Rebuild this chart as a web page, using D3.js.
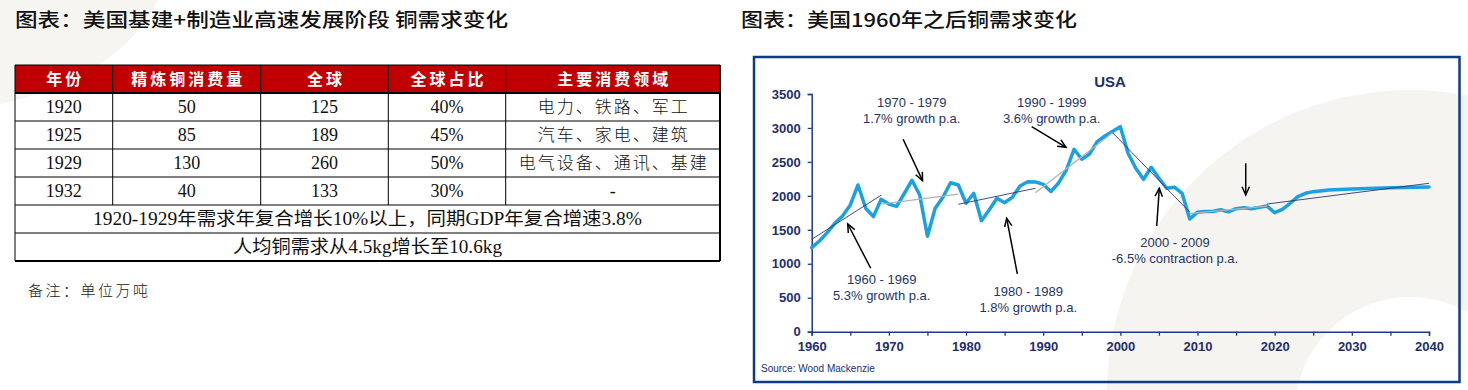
<!DOCTYPE html>
<html><head><meta charset="utf-8">
<script src="https://cdn.jsdelivr.net/npm/d3@7/dist/d3.min.js"></script>
<style>
html,body{margin:0;padding:0;background:#fff;}
svg{display:block;}
</style></head>
<body>
<svg id="chart" width="1468" height="390"></svg>
<script>
// ---------- data ----------
const leftTitle = "图表：美国基建+制造业高速发展阶段 铜需求变化";
const rightTitle = "图表：美国1960年之后铜需求变化";
const tableHeaders = ["年份","精炼铜消费量","全球","全球占比","主要消费领域"];
const tableYears = ["1920","1925","1929","1932"];
const refinedUse = [50,85,130,40];
const globalUse = [125,189,260,133];
const globalShare = ["40%","45%","50%","30%"];
const mainSectors = ["电力、铁路、军工","汽车、家电、建筑","电气设备、通讯、基建","-"];
const tableNotes = ["1920-1929年需求年复合增长10%以上，同期GDP年复合增速3.8%","人均铜需求从4.5kg增长至10.6kg"];
const footNote = "备注：单位万吨";

const chartTitle = "USA";
const sourceText = "Source: Wood Mackenzie";
const years = [1960,1961,1962,1963,1964,1965,1966,1967,1968,1969,
  1970,1971,1972,1973,1974,1975,1976,1977,1978,1979,
  1980,1981,1982,1983,1984,1985,1986,1987,1988,1989,
  1990,1991,1992,1993,1994,1995,1996,1997,1998,1999,
  2000,2001,2002,2003,2004,2005,2006,2007,2008,2009,
  2010,2011,2012,2013,2014,2015,2016,2017,2018,2019,
  2020,2021,2022,2023,2024,2025,2027,2030,2035,2040];
const demand = [1237,1336,1458,1596,1704,1866,2160,1817,1694,1950,
  1880,1845,2035,2230,2013,1405,1817,1979,2194,2160,
  1891,2038,1635,1792,1964,1900,1979,2145,2209,2205,
  2170,2065,2190,2381,2686,2539,2617,2798,2882,2950,
  3019,2627,2406,2244,2421,2259,2112,2127,2038,1660,
  1760,1770,1770,1795,1765,1811,1826,1811,1831,1851,
  1752,1802,1891,1988,2038,2062,2087,2101,2121,2131];
const yTicks = [0,500,1000,1500,2000,2500,3000,3500];
const xTicks = [1960,1965,1970,1975,1980,1985,1990,1995,2000,2005,2010,2015,2020,2025,2030,2035,2040];
const xLabels = [1960,1970,1980,1990,2000,2010,2020,2030,2040];
// trend segments
const trendStartYear = [1960,1969,1979,1989,1999,2009,2019];
const trendStartVal  = [1360,1880,1876,2047,2930,1740,1880];
const trendEndYear   = [1969,1979,1989,1999,2009,2019,2040];
const trendEndVal    = [2010,2025,2112,2930,1760,1850,2185];
const trendKind      = ["dark","light","dark","light","dark","light","dark"];
// annotations (in data units)
const annoLines = [["1970 - 1979","1.7% growth p.a."],["1990 - 1999","3.6% growth p.a."],
  ["1960 - 1969","5.3% growth p.a."],["1980 - 1989","1.8% growth p.a."],
  ["2000 - 2009","-6.5% contraction p.a."],[]];
const annoYear = [1972.96,1991.1,1969.07,1988.07,2007.08,null];
const annoVal  = [3368,3378,772,589,1316,null];
const arrowFromYear = [1971.85,1988.51,1967.65,1986.65,2004.71,2016.25];
const arrowFromVal  = [2833,3019,934,850,1556,2480];
const arrowToYear   = [1974.36,1992.96,1964.67,1985.27,2005.05,2016.25];
const arrowToVal    = [2224,2715,1586,1670,2112,2013];

// ---------- drawing ----------
const svg = d3.select("#chart");
const cjkSerif = "'Liberation Serif','Noto Sans CJK SC',serif";
const cjk = "'Noto Sans CJK SC','Liberation Serif',sans-serif";
const sans = "'Liberation Sans',Arial,sans-serif";

// background watermark shapes
svg.append("path").attr("d","M0,0 L158,0 Q118,78 0,104 Z").attr("fill","#f7f5f2");
const defs = svg.append("defs");
defs.append("clipPath").attr("id","pageClip").append("rect")
  .attr("x",0).attr("y",0).attr("width",1468).attr("height",390);
svg.append("path").attr("clip-path","url(#pageClip)")
  .attr("d", (() => { const p = d3.path(); p.arc(1410,393,303,0,2*Math.PI); p.moveTo(1525,412); p.arc(1410,412,115,0,2*Math.PI,true); return p.toString(); })())
  .attr("fill","#f6f4f1").attr("fill-rule","evenodd");

// titles
svg.append("text").attr("x",15).attr("y",27).text(leftTitle)
  .attr("font-family",cjk).attr("font-size",19).attr("font-weight",500).attr("fill","#111")
  .attr("textLength",493).attr("lengthAdjust","spacingAndGlyphs");
svg.append("text").attr("x",741).attr("y",27).text(rightTitle)
  .attr("font-family",cjk).attr("font-size",19).attr("font-weight",500).attr("fill","#111")
  .attr("textLength",336).attr("lengthAdjust","spacingAndGlyphs");

// ---------- table ----------
const colEdges = [15,112.7,260.7,388.3,505.7,720];
const rowTop = 65, headH = 28, rowH = 28;
const colCenters = colEdges.slice(0,-1).map((v,i)=>(v+colEdges[i+1])/2);
const tbl = svg.append("g");
tbl.append("rect").attr("x",colEdges[0]).attr("y",rowTop).attr("width",colEdges[5]-colEdges[0]).attr("height",headH).attr("fill","#c00000");
const bodyRows = tableYears.map((yv,i)=>[yv, String(refinedUse[i]), String(globalUse[i]), globalShare[i], mainSectors[i]]);
const nBody = bodyRows.length;
const bodyBottom = rowTop + headH + nBody*rowH;
const tableBottom = bodyBottom + tableNotes.length*rowH;
for (let i=0;i<=nBody;i++){
  const yy = rowTop+headH+i*rowH;
  tbl.append("line").attr("x1",colEdges[0]).attr("x2",colEdges[5]).attr("y1",yy).attr("y2",yy)
    .attr("stroke","#000").attr("stroke-width", i===0?2:1);
}
tbl.append("line").attr("x1",colEdges[0]).attr("x2",colEdges[5]).attr("y1",bodyBottom+rowH).attr("y2",bodyBottom+rowH).attr("stroke","#000").attr("stroke-width",1);
tbl.append("line").attr("x1",colEdges[0]).attr("x2",colEdges[5]).attr("y1",tableBottom).attr("y2",tableBottom).attr("stroke","#000").attr("stroke-width",2);
tbl.append("line").attr("x1",colEdges[0]).attr("x2",colEdges[5]).attr("y1",rowTop).attr("y2",rowTop).attr("stroke","#000").attr("stroke-width",1);
colEdges.forEach((cx,i)=>{
  const outer = (i===0||i===5);
  tbl.append("line").attr("x1",cx).attr("x2",cx).attr("y1",rowTop).attr("y2", outer?tableBottom:bodyBottom)
    .attr("stroke","#000").attr("stroke-width", i===5?2:1);
});
tbl.selectAll("text.h").data(tableHeaders).join("text").attr("class","h")
  .attr("x",(d,i)=>colCenters[i]+1.5).attr("y",rowTop+headH/2+6)
  .attr("text-anchor","middle").attr("font-family",cjk).attr("font-weight","bold")
  .attr("font-size",16).attr("letter-spacing",3).attr("fill","#fff").text(d=>d);
bodyRows.forEach((row,r)=>{
  row.forEach((cell,c)=>{
    const isCJK = /[\u4e00-\u9fff]/.test(cell);
    tbl.append("text").attr("x",colCenters[c]+(isCJK?1:0)).attr("y",rowTop+headH+r*rowH+rowH/2+6)
      .attr("text-anchor","middle").attr("font-family",cjkSerif).attr("font-size",isCJK?17:18)
      .attr("font-weight",isCJK?300:400)
      .attr("letter-spacing",isCJK?2:0).attr("fill","#111").text(cell);
  });
});
tableNotes.forEach((t,i)=>{
  tbl.append("text").attr("x",(colEdges[0]+colEdges[5])/2).attr("y",bodyBottom+i*rowH+rowH/2+6)
    .attr("text-anchor","middle").attr("font-family",cjkSerif).attr("font-size",18).attr("fill","#111")
    .attr("textLength", i===0?549:269).attr("lengthAdjust","spacingAndGlyphs").text(t);
});
svg.append("text").attr("x",28).attr("y",296).attr("font-family",cjk).attr("font-size",15)
  .attr("font-weight",300).attr("letter-spacing",2.5).attr("fill","#222").text(footNote);

// ---------- line chart ----------
const navy = "#1d2f6e";
const frameC = "#0f3b86";
svg.append("rect").attr("x",754).attr("y",57).attr("width",705.5).attr("height",325)
  .attr("fill","none").attr("stroke",frameC).attr("stroke-width",2.5);

const x = d3.scaleLinear().domain([1960,2040]).range([811.7,1429]);
const y = d3.scaleLinear().domain([0,3500]).range([331.7,94]);

const gy = svg.append("g").attr("transform","translate(811.7,0)")
  .call(d3.axisLeft(y).tickValues(yTicks).tickSize(4).tickPadding(7).tickFormat(d3.format("d")));
const gx = svg.append("g").attr("transform","translate(0,331.7)")
  .call(d3.axisBottom(x).tickValues(xTicks).tickSize(4).tickPadding(6)
    .tickFormat(d => xLabels.includes(d) ? String(d) : ""));
[gx,gy].forEach(g=>{
  g.select(".domain").attr("stroke","#1b3a8a").attr("stroke-width",1.5);
  g.selectAll(".tick line").attr("stroke","#1b3a8a").attr("stroke-width",1.3);
  g.selectAll(".tick text").attr("fill",navy).attr("font-family",sans).attr("font-size",13).attr("font-weight","bold");
});

svg.append("text").attr("x",1110).attr("y",87).attr("text-anchor","middle").attr("font-family",sans)
  .attr("font-size",15).attr("font-weight","bold").attr("fill",navy).text(chartTitle);
svg.append("text").attr("x",761).attr("y",372).attr("font-family",sans).attr("font-size",10)
  .attr("fill",navy).text(sourceText);

const series = years.map((yr,i)=>({year:yr,value:demand[i]}));
svg.append("path").datum(series)
  .attr("d", d3.line().x(d=>x(d.year)).y(d=>y(d.value)))
  .attr("fill","none").attr("stroke","#1ba1df").attr("stroke-width",3.5)
  .attr("stroke-linejoin","round").attr("stroke-linecap","round");

trendStartYear.forEach((sy,i)=>{
  svg.append("line").attr("x1",x(sy)).attr("y1",y(trendStartVal[i]))
    .attr("x2",x(trendEndYear[i])).attr("y2",y(trendEndVal[i]))
    .attr("stroke", trendKind[i]==="dark" ? "#2c3572" : "#b3b3b3")
    .attr("stroke-width", trendKind[i]==="dark" ? 0.9 : 1.3);
});

annoLines.forEach((lines,i)=>{
  if (lines.length){
    const t = svg.append("text").attr("text-anchor","middle").attr("font-family",sans)
      .attr("font-size",13).attr("fill","#243468");
    lines.forEach((ln,j)=>{
      t.append("tspan").attr("x",x(annoYear[i])).attr("y",y(annoVal[i])+4.5+j*16).text(ln);
    });
  }
  const x1 = x(arrowFromYear[i]), y1 = y(arrowFromVal[i]);
  const x2 = x(arrowToYear[i]), y2 = y(arrowToVal[i]);
  svg.append("line").attr("x1",x1).attr("y1",y1).attr("x2",x2).attr("y2",y2)
    .attr("stroke","#000").attr("stroke-width",1.5);
  const ang = Math.atan2(y2-y1,x2-x1), L = 9, spread = 0.42;
  const p = d3.path();
  p.moveTo(x2-L*Math.cos(ang-spread), y2-L*Math.sin(ang-spread));
  p.lineTo(x2,y2);
  p.lineTo(x2-L*Math.cos(ang+spread), y2-L*Math.sin(ang+spread));
  svg.append("path").attr("d",p.toString()).attr("fill","none").attr("stroke","#000").attr("stroke-width",1.5);
});
</script>
</body></html>
